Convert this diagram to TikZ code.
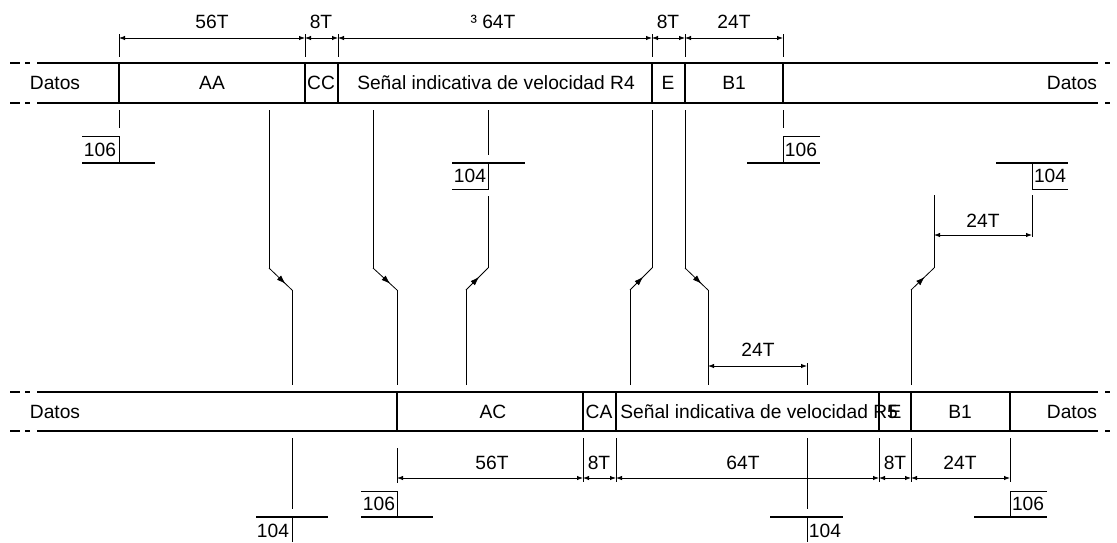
\documentclass[tikz,border=0pt]{standalone}
\usepackage{fontspec}
\setmainfont{Liberation Sans}
\usetikzlibrary{arrows.meta, decorations.markings}
\tikzset{
  % line styles
  bar/.style={line width=0.9pt},
  wire/.style={line width=0.4pt},
  dim/.style={wire, {Latex[length=3pt,width=2.2pt]}-{Latex[length=3pt,width=2.2pt]}},
  flowdown/.style={wire, postaction={decorate}, decoration={markings, mark=at position 0.72 with {\arrow{Latex[length=4.5pt,width=3pt]}}}},
  flowup/.style={wire, postaction={decorate}, decoration={markings, mark=at position 0.6 with {\arrow{Latex[length=4.5pt,width=3pt]}}}},
  % text styles
  lbl/.style={inner sep=0pt, text height=6.8pt, text depth=0pt, font=\fontsize{9.6}{11}\selectfont},
}

\begin{document}
\begin{tikzpicture}[x=0.5pt, y=-0.5pt]
    \useasboundingbox (0,0) rectangle (1117,542);

    % Upper frame
    \draw[bar] (37,63) -- (1098,63) (37,103) -- (1098,103);
    \draw[bar] (10,63) -- (20,63) (25,63) -- (30,63) (10,103) -- (20,103) (25,103) -- (30,103);
    \draw[bar] (1105,63) -- (1110,63) (1105,103) -- (1110,103);
    \foreach \x in {119,305,338,652,685,783}
      \draw[bar] (\x,63) -- (\x,103);
    \node[lbl] (datos1) at (55,83) {Datos};
    \node[lbl] (aa) at (212,83) {AA};
    \node[lbl] (cc) at (321,83) {CC};
    \node[lbl] (senal1) at (496,83) {Señal indicativa de velocidad R4};
    \node[lbl] (e1) at (668,83) {E};
    \node[lbl] (b1a) at (734,83) {B1};
    \node[lbl] (datos2) at (1072,83) {Datos};

    % Upper dimensions
    \foreach \x in {119,305,338,652,685,783}
      \draw[wire] (\x,34) -- (\x,57);
    \foreach \xa/\xb in {119/305,305/338,338/652,652/685,685/783}
      \draw[dim] (\xa,38) -- (\xb,38);
    \node[lbl] (d56a) at (212,22) {56T};
    \node[lbl] (d8a) at (321,22) {8T};
    \node[lbl] (d64a) at (493,22) {³ 64T};
    \node[lbl] (d8b) at (668,22) {8T};
    \node[lbl] (d24a) at (734,22) {24T};

    % Upper references
    \draw[wire] (119,110) -- (119,128) (783,110) -- (783,128);
    \draw[wire] (82,136) -- (119,136) -- (119,163);
    \draw[bar] (82,163) -- (155,163);
    \node[lbl] (r106a) at (100,150) {106};
    \draw[wire] (820,136) -- (783,136) -- (783,163);
    \draw[bar] (747,163) -- (820,163);
    \node[lbl] (r106b) at (801,150) {106};
    \draw[wire] (488,110) -- (488,155);
    \draw[bar] (452,163) -- (525,163);
    \draw[wire] (452,189) -- (488,189) -- (488,163);
    \node[lbl] (r104a) at (470,176) {104};
    \draw[bar] (996,163) -- (1068,163);
    \draw[wire] (1068,189) -- (1032,189) -- (1032,163);
    \node[lbl] (r104b) at (1050,176) {104};

    % Shifted lines
    \foreach \xt/\xb in {269/292,373/397,685/708} {
      \draw[wire] (\xt,110) -- (\xt,268);
      \draw[flowdown] (\xt,268) -- (\xb,290);
      \draw[wire] (\xb,290) -- (\xb,385);
    }
    \foreach \xt/\xb/\yt in {488/466/196,652/630/110,934/911/195} {
      \draw[wire] (\xb,385) -- (\xb,290);
      \draw[flowup] (\xb,290) -- (\xt,268);
      \draw[wire] (\xt,268) -- (\xt,\yt);
    }

    % Middle dimensions
    \draw[wire] (807,363) -- (807,385);
    \draw[dim] (708,366) -- (807,366);
    \node[lbl] (d24b) at (758,350) {24T};
    \draw[wire] (1032,195) -- (1032,237);
    \draw[dim] (934,235) -- (1032,235);
    \node[lbl] (d24c) at (983,221) {24T};

    % Lower frame
    \draw[bar] (37,392) -- (1098,392) (37,431) -- (1098,431);
    \draw[bar] (10,392) -- (20,392) (25,392) -- (30,392) (10,431) -- (20,431) (25,431) -- (30,431);
    \draw[bar] (1105,392) -- (1110,392) (1105,431) -- (1110,431);
    \foreach \x in {397,583,616,879,911,1010}
      \draw[bar] (\x,392) -- (\x,431);
    \node[lbl] (datos3) at (55,412) {Datos};
    \node[lbl] (ac) at (493,412) {AC};
    \node[lbl] (ca) at (599,412) {CA};
    \node[lbl, anchor=west] (senal2) at (620,412) {Señal indicativa de velocidad R5};
    \node[lbl] (e2) at (895,412) {E};
    \node[lbl] (b1b) at (960,412) {B1};
    \node[lbl] (datos4) at (1072,412) {Datos};

    % Lower dimensions
    \draw[wire] (397,448) -- (397,483);
    \foreach \x in {583,616,879,911,1010}
      \draw[wire] (\x,438) -- (\x,482);
    \foreach \xa/\xb in {397/583,583/616,616/879,879/911,911/1010}
      \draw[dim] (\xa,478) -- (\xb,478);
    \node[lbl] (d56b) at (492,463) {56T};
    \node[lbl] (d8c) at (599,463) {8T};
    \node[lbl] (d64b) at (743,463) {64T};
    \node[lbl] (d8d) at (895,463) {8T};
    \node[lbl] (d24d) at (960,463) {24T};

    % Lower references
    \draw[wire] (292,438) -- (292,509) (807,438) -- (807,509);
    \draw[bar] (256,517) -- (328,517);
    \draw[wire] (292,517) -- (292,542);
    \node[lbl] (r104c) at (273,531) {104};
    \draw[bar] (770,517) -- (843,517);
    \draw[wire] (807,517) -- (807,542);
    \node[lbl] (r104d) at (825,531) {104};
    \draw[wire] (361,491) -- (397,491) -- (397,517);
    \draw[bar] (361,517) -- (433,517);
    \node[lbl] (r106c) at (379,504) {106};
    \draw[wire] (1047,491) -- (1010,491) -- (1010,517);
    \draw[bar] (974,517) -- (1047,517);
    \node[lbl] (r106d) at (1028,504) {106};
\end{tikzpicture}
\end{document}
